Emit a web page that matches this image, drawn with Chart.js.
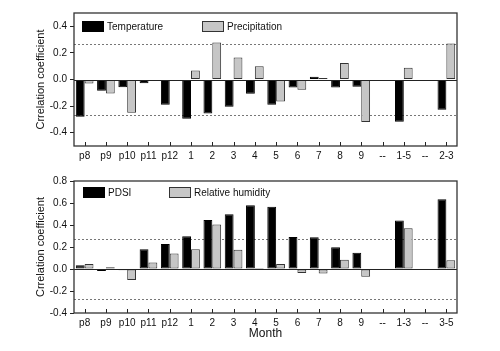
<!DOCTYPE html>
<html>
<head>
<meta charset="utf-8">
<script src="https://cdn.jsdelivr.net/npm/chart.js@4.4.0/dist/chart.umd.min.js"></script>
<style>
  body { margin: 0; background: #fff; width: 500px; height: 351px; overflow: hidden; position: relative; }
  .box { position: absolute; left: 0; width: 500px; }
</style>
</head>
<body>
<div class="box" style="top:0;height:170px"><canvas id="topChart"></canvas></div>
<div class="box" style="top:170px;height:181px"><canvas id="bottomChart"></canvas></div>
<script>
// top panel: temperature / precipitation
const topMonths = ['p8', 'p9', 'p10', 'p11', 'p12', '1', '2', '3', '4', '5', '6', '7', '8', '9', '--', '1-5', '--', '2-3'];
const temperature = [-0.28, -0.085, -0.058, -0.028, -0.19, -0.295, -0.255, -0.205, -0.108, -0.19, -0.06, 0.02, -0.06, -0.055, null, -0.318, null, -0.228];
const precipitation = [-0.03, -0.105, -0.25, -0.01, -0.005, 0.068, 0.278, 0.165, 0.10, -0.165, -0.078, 0.012, 0.125, -0.32, null, 0.088, null, 0.27];
const topYTicks = [-0.4, -0.2, 0, 0.2, 0.4];

// bottom panel: PDSI / relative humidity
const bottomMonths = ['p8', 'p9', 'p10', 'p11', 'p12', '1', '2', '3', '4', '5', '6', '7', '8', '9', '--', '1-3', '--', '3-5'];
const pdsi = [0.033, -0.018, -0.012, 0.18, 0.227, 0.297, 0.445, 0.497, 0.58, 0.567, 0.29, 0.288, 0.197, 0.148, null, 0.44, null, 0.633];
const humidity = [0.045, 0.015, -0.1, 0.06, 0.14, 0.18, 0.405, 0.176, 0.01, 0.045, -0.036, -0.04, 0.085, -0.07, null, 0.37, null, 0.079];
const bottomYTicks = [-0.4, -0.2, 0, 0.2, 0.4, 0.6, 0.8];

const sigLevel = 0.27;

const FONT = '"Liberation Sans", Arial, sans-serif';

const framePlugin = {
  id: 'frame',
  beforeDatasetsDraw(chart) {
    const { ctx, chartArea: a, scales: { y } } = chart;
    ctx.save();
    ctx.strokeStyle = '#777';
    ctx.lineWidth = 1;
    ctx.setLineDash([2, 2]);
    [sigLevel, -sigLevel].forEach(v => {
      const py = Math.round(y.getPixelForValue(v)) + 0.5;
      ctx.beginPath();
      ctx.moveTo(a.left, py);
      ctx.lineTo(a.right, py);
      ctx.stroke();
    });
    ctx.restore();
  },
  afterDatasetsDraw(chart, args, opts) {
    const { ctx, chartArea: a, scales: { x, y } } = chart;
    ctx.save();
    // zero line
    const zy = Math.round(y.getPixelForValue(0)) + 0.5;
    ctx.strokeStyle = '#222';
    ctx.lineWidth = 1;
    ctx.beginPath();
    ctx.moveTo(a.left, zy);
    ctx.lineTo(a.right, zy);
    ctx.stroke();
    // inward x ticks
    chart.data.labels.forEach((l, i) => {
      const px = Math.round(x.getPixelForTick(i)) + 0.5;
      ctx.beginPath();
      ctx.moveTo(px, a.bottom);
      ctx.lineTo(px, a.bottom - 4);
      ctx.stroke();
    });
    // frame
    ctx.lineWidth = 1.3;
    ctx.strokeStyle = '#333';
    ctx.strokeRect(a.left, a.top, a.right - a.left, a.bottom - a.top);
    // legend
    ctx.font = '10px ' + FONT;
    ctx.textBaseline = 'middle';
    ctx.fillStyle = '#111';
    chart.data.datasets.forEach((ds, i) => {
      const bx = a.left + opts.legendX[i];
      const by = a.top + opts.legendY;
      ctx.fillStyle = ds.backgroundColor;
      ctx.fillRect(bx, by, 22, 11);
      ctx.strokeStyle = ds.borderColor;
      ctx.lineWidth = 1;
      ctx.strokeRect(bx + 0.5, by + 0.5, 21, 10);
      ctx.fillStyle = '#111';
      ctx.fillText(ds.label, bx + 25, by + 6);
    });
    ctx.restore();
  }
};

function makeChart(id, labels, names, s1, s2, yMin, yMax, yTicks, opt) {
  return new Chart(document.getElementById(id), {
    type: 'bar',
    data: {
      labels: labels,
      datasets: [{
        label: names[0],
        data: s1,
        backgroundColor: '#000',
        borderColor: '#000',
        borderWidth: 1,
        borderSkipped: false
      }, {
        label: names[1],
        data: s2,
        backgroundColor: '#c6c6c6',
        borderColor: '#333',
        borderWidth: 1,
        borderSkipped: false
      }]
    },
    options: {
      responsive: true,
      maintainAspectRatio: false,
      animation: false,
      datasets: { bar: { categoryPercentage: 0.83, barPercentage: 1 } },
      layout: { padding: { left: 34, top: opt.top, right: 43, bottom: opt.bottom } },
      plugins: {
        legend: { display: false },
        tooltip: { enabled: false },
        frame: { legendX: opt.legendX, legendY: opt.legendY }
      },
      scales: {
        x: {
          afterFit: s => { s.height = opt.xHeight; },
          grid: { display: false, drawTicks: false },
          border: { display: false },
          ticks: { color: '#111', font: { family: FONT, size: 10 }, padding: 4, autoSkip: false, maxRotation: 0 },
          title: { display: opt.xTitle, text: 'Month', color: '#111', font: { family: FONT, size: 12 }, padding: { top: 0, bottom: 4 } }
        },
        y: {
          min: yMin,
          max: yMax,
          afterBuildTicks: s => { s.ticks = yTicks.map(v => ({ value: v })); },
          afterFit: s => { s.width = 40; },
          grid: { color: 'rgba(0,0,0,0)', tickColor: '#222', tickLength: 4, drawOnChartArea: false },
          border: { display: false },
          ticks: { color: '#111', font: { family: FONT, size: 10 }, padding: 3, callback: v => v.toFixed(1) },
          title: { display: true, text: 'Crrelation coefficient', color: '#111', font: { family: FONT, size: 11 }, padding: 0 }
        }
      }
    },
    plugins: [framePlugin]
  });
}

makeChart('topChart', topMonths, ['Temperature', 'Precipitation'], temperature, precipitation, -0.5, 0.5, topYTicks,
  { top: 13, bottom: 4, xHeight: 20, xTitle: false, legendX: [8, 128], legendY: 8 });
makeChart('bottomChart', bottomMonths, ['PDSI', 'Relative humidity'], pdsi, humidity, -0.4, 0.8, bottomYTicks,
  { top: 11, bottom: 6, xHeight: 32, xTitle: true, legendX: [9, 95], legendY: 6 });
</script>
</body>
</html>
